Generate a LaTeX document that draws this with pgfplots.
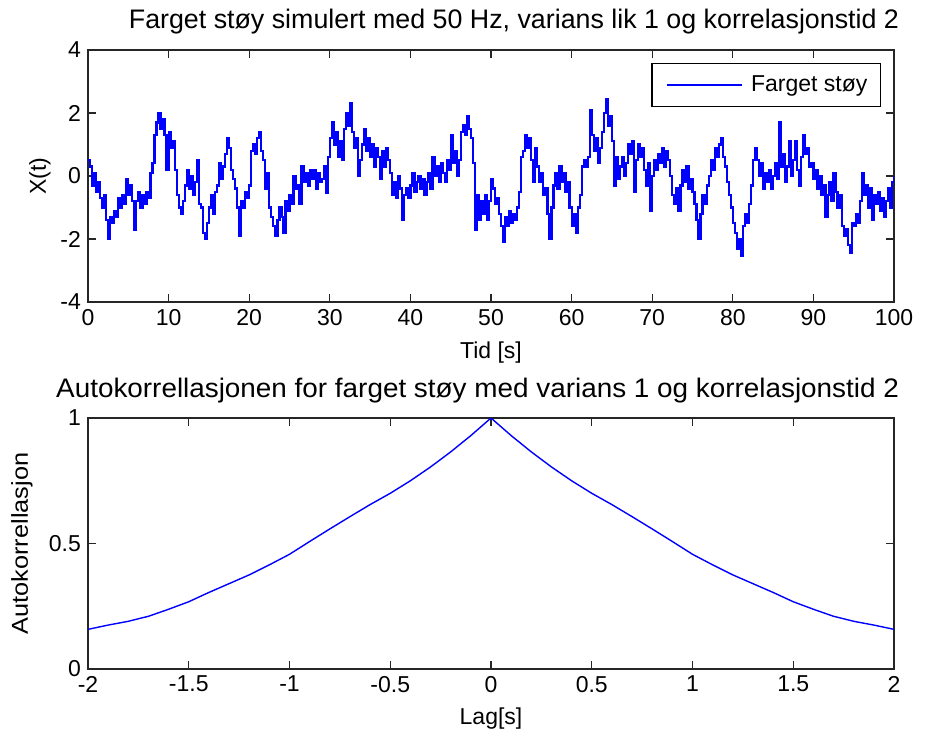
\documentclass[border=0pt]{standalone}
\usepackage{fontspec}
\setmainfont{Liberation Sans}
\usepackage{graphicx}
\usepackage{pgfplots}
\usepackage{pgfplotstable}
\pgfplotsset{compat=1.18}
\definecolor{mblue}{RGB}{0,0,255}

% Farget stoy, sampled every 0.25 s (t = 0 ... 100)
\pgfplotstableread[row sep=\\]{y\\
0.5\\0.3\\-0.3\\0.1\\
-0.5\\-0.2\\-0.7\\-1.0\\
-0.6\\-1.4\\-2.0\\-1.3\\
-1.5\\-1.1\\-1.3\\-0.7\\
-1.0\\-0.6\\-0.9\\-0.1\\
-0.6\\-0.3\\-0.8\\-1.7\\
-0.8\\-0.5\\-1.0\\-0.6\\
-0.9\\-0.5\\-0.7\\0.1\\
0.4\\1.3\\1.7\\2.0\\
1.5\\1.8\\1.3\\0.2\\
1.4\\0.9\\1.1\\0.2\\
-0.6\\-1.0\\-1.2\\-0.8\\
-0.3\\0.2\\-0.4\\0.0\\
-0.6\\-0.2\\0.5\\-0.9\\
-1.0\\-1.8\\-2.0\\-1.5\\
-1.0\\-0.6\\-1.2\\-0.5\\
-0.3\\0.4\\-0.1\\0.3\\
0.7\\1.2\\0.9\\0.2\\
-0.1\\-0.4\\-1.0\\-1.9\\
-0.8\\-1.0\\-0.5\\-0.7\\
-0.3\\0.8\\1.0\\0.7\\
1.2\\1.4\\0.8\\0.5\\
-0.4\\0.1\\-1.0\\-1.3\\
-1.6\\-1.9\\-1.4\\-1.0\\
-1.3\\-1.8\\-0.8\\-1.1\\
-0.6\\-0.9\\0.0\\-0.4\\
-0.3\\-0.9\\0.3\\-0.2\\
0.1\\-0.3\\0.2\\-0.1\\
0.2\\-0.4\\0.1\\-0.2\\
-0.1\\0.3\\-0.55\\0.6\\
1.2\\1.7\\1.0\\1.4\\
0.6\\1.1\\0.5\\1.5\\
2.0\\1.6\\2.3\\1.4\\
0.9\\1.2\\0.0\\0.5\\
1.0\\1.5\\0.8\\1.2\\
0.6\\1.0\\0.3\\0.9\\
0.6\\-0.1\\0.8\\0.3\\
0.9\\0.5\\0.1\\-0.6\\
-0.2\\-0.7\\0.0\\-0.4\\
-1.4\\-0.6\\-0.4\\-0.7\\
-0.3\\0.1\\-0.5\\-0.2\\
0.0\\-0.4\\-0.1\\-0.6\\
-0.2\\0.1\\-0.4\\0.6\\
0.0\\0.3\\-0.2\\0.4\\
0.1\\-0.2\\0.5\\0.2\\
1.3\\0.4\\0.8\\0.0\\
0.5\\1.4\\1.6\\1.3\\
1.9\\1.5\\1.2\\0.4\\
-1.7\\-0.6\\-1.4\\-0.8\\
-1.2\\-0.6\\-1.4\\-0.8\\
-0.1\\-0.4\\-0.9\\-0.7\\
-1.2\\-1.6\\-2.1\\-1.3\\
-1.6\\-1.1\\-1.5\\-1.2\\
-1.4\\-1.0\\-0.5\\0.6\\
0.8\\1.3\\0.9\\1.2\\
0.5\\-0.2\\0.9\\0.3\\
-0.2\\0.1\\-0.6\\-0.4\\
-1.2\\-2.0\\-1.0\\-0.3\\
0.1\\-0.4\\0.3\\-0.2\\
0.1\\-0.5\\-0.2\\-1.0\\
-1.6\\-1.2\\-1.8\\-1.0\\
-0.6\\0.3\\0.5\\0.3\\
0.6\\2.1\\1.3\\0.8\\
1.2\\0.4\\0.9\\1.4\\
2.0\\2.45\\1.6\\1.9\\
1.1\\-0.3\\0.6\\-0.1\\
0.3\\0.6\\0.0\\0.4\\
1.0\\0.7\\1.1\\-0.5\\
0.5\\1.0\\0.6\\0.9\\
0.2\\-0.3\\0.4\\-1.1\\
0.0\\0.5\\0.2\\0.7\\
0.4\\0.9\\0.3\\0.8\\
0.5\\0.0\\-0.6\\-0.9\\
-0.4\\-1.1\\-0.3\\0.2\\
-0.2\\0.3\\-0.4\\-0.1\\
-0.5\\-0.9\\-1.4\\-2.0\\
-1.2\\-0.6\\-0.9\\-0.3\\
0.0\\0.5\\0.2\\0.9\\
0.6\\1.0\\1.2\\0.6\\
0.3\\-0.2\\-0.6\\-1.0\\
-1.5\\-1.8\\-2.3\\-2.0\\
-2.55\\-1.6\\-1.2\\-1.5\\
-0.9\\-0.3\\0.5\\0.9\\
0.5\\0.0\\0.4\\-0.4\\
0.1\\-0.2\\0.2\\-0.4\\
0.0\\0.4\\-0.1\\1.7\\
0.3\\0.7\\-0.2\\0.3\\
1.1\\0.0\\0.5\\1.1\\
0.2\\-0.3\\0.6\\1.3\\
0.7\\0.9\\0.3\\0.4\\
-0.1\\0.2\\-0.4\\0.0\\
-0.6\\-0.3\\-1.3\\-0.6\\
-0.2\\-0.8\\0.1\\-0.5\\
-1.0\\-0.6\\-1.6\\-1.9\\
-1.7\\-2.2\\-2.45\\-1.5\\
-1.6\\-1.2\\-1.5\\-0.8\\
0.1\\-0.6\\-0.3\\-1.0\\
-0.4\\-1.4\\-0.6\\-0.9\\
-0.5\\-1.1\\-0.7\\-1.3\\
-0.8\\-0.4\\-1.0\\-0.2\\
0.0\\
}\noisetable

\pgfplotstableread{
lag acf
-2 0.158
-1.9 0.175
-1.8 0.19
-1.7 0.21
-1.6 0.238
-1.5 0.268
-1.4 0.305
-1.3 0.34
-1.2 0.375
-1.1 0.415
-1.0 0.457
-0.9 0.508
-0.8 0.558
-0.7 0.607
-0.6 0.655
-0.5 0.700
-0.4 0.750
-0.3 0.805
-0.2 0.865
-0.1 0.930
0 1.0
0.1 0.930
0.2 0.865
0.3 0.805
0.4 0.750
0.5 0.700
0.6 0.655
0.7 0.607
0.8 0.558
0.9 0.508
1.0 0.457
1.1 0.415
1.2 0.375
1.3 0.34
1.4 0.305
1.5 0.268
1.6 0.238
1.7 0.21
1.8 0.19
1.9 0.175
2 0.158
}\acftable

\begin{document}
\begin{tikzpicture}
\useasboundingbox (-44pt,25pt) rectangle (418.5pt,-343.5pt);
\pgfplotsset{
  every axis/.append style={
    scale only axis,
    width=403pt,
    axis line style={line width=0.75pt, black!85},
    tick align=inside,
    major tick length=4pt,
    every tick/.style={black!85, line width=0.6pt},
    tick label style={font=\fontsize{11.5}{13}\selectfont},
    label style={font=\fontsize{11.5}{13}\selectfont},
    /pgf/number format/assume math mode=true,
  },
}
\begin{axis}[
  anchor=north west, at={(0,0)}, height=126pt,
  xmin=0, xmax=100, ymin=-4, ymax=4,
  xtick={0,10,20,30,40,50,60,70,80,90,100},
  ytick={-4,-2,0,2,4},
  title={Farget støy simulert med 50 Hz, varians lik 1 og korrelasjonstid 2},
  every axis title/.style={at={(axis description cs:1.0149,1.087)}, anchor=base east,
    font=\fontsize{13.4}{15}\selectfont},
  xlabel={Tid [s]},
  xlabel style={at={(axis description cs:0.5,-0.226)}, anchor=base},
  ylabel={X(t)},
  ylabel style={at={(axis description cs:-0.0596,0.5)}, anchor=center},
  legend style={at={(axis description cs:1,1)}, anchor=north east,
    xshift=-6.5pt, yshift=-6.5pt, draw=black, line width=0.6pt,
    font=\fontsize{11.5}{13}\selectfont,
    inner xsep=0pt, inner ysep=3pt,
    nodes={inner xsep=0pt, inner ysep=3pt}},
  legend image code/.code={\path (0pt,0pt) (44.5pt,0pt); \draw[#1, line width=0.6pt] (7pt,0pt) -- (44.5pt,0pt);},
]
\addplot[mblue, line width=1.1pt, const plot] table[x expr=\coordindex*0.25, y=y] {\noisetable};
\addlegendentry{\rule{4pt}{0pt}Farget støy\rule{6.5pt}{0pt}}
\end{axis}

\begin{axis}[
  anchor=north west, at={(0,-184pt)}, height=125.5pt,
  xmin=-2, xmax=2, ymin=0, ymax=1,
  xtick={-2,-1.5,-1,-0.5,0,0.5,1,1.5,2},
  ytick={0,0.5,1},
  title={\scalebox{1.04}[1]{Autokorrellasjonen for farget støy med varians 1 og korrelasjonstid 2}},
  every axis title/.style={at={(axis description cs:1.0149,1.080)}, anchor=base east,
    font=\fontsize{13.4}{15}\selectfont},
  xlabel={Lag[s]},
  xlabel style={at={(axis description cs:0.5,-0.223)}, anchor=base},
  ylabel={\scalebox{1.1}[1]{Autokorrellasjon}},
  ylabel style={at={(axis description cs:-0.0819,0.5)}, anchor=center},
]
\addplot[mblue, line width=0.7pt] table[x=lag, y=acf] {\acftable};
\end{axis}
\end{tikzpicture}
\end{document}
